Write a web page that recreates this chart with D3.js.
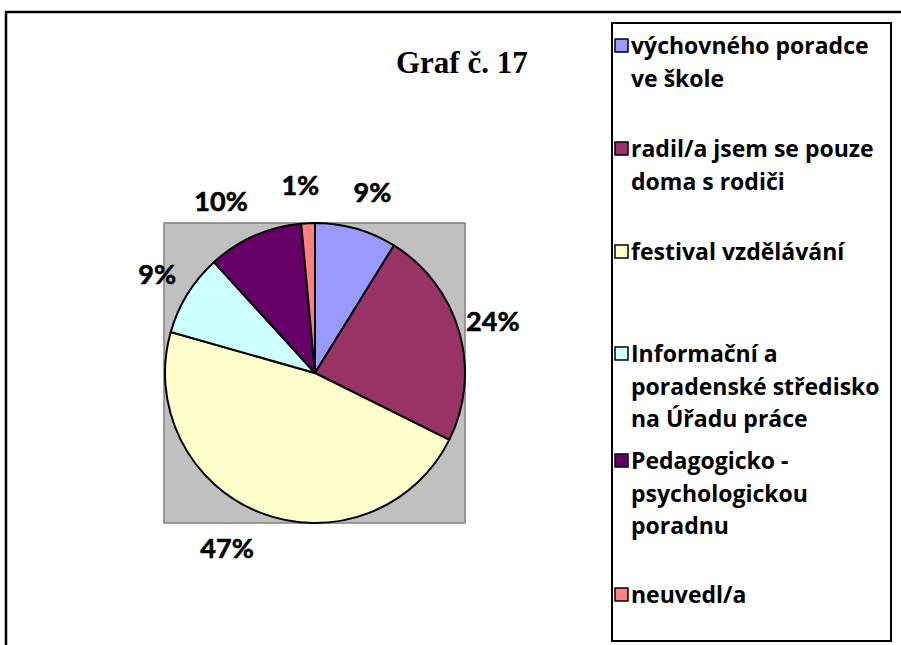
<!DOCTYPE html>
<html>
<head>
<meta charset="utf-8">
<script src="https://cdn.jsdelivr.net/npm/d3@7"></script>
<style>
  html, body { margin: 0; padding: 0; background: #fff; }
  svg { display: block; }
</style>
</head>
<body>
<div id="chart"></div>
<script>
// data (counts, sum 68)
const categories = [
    'výchovného poradce ve škole',
    'radil/a jsem se pouze doma s rodiči',
    'festival vzdělávání',
    'Informační a poradenské středisko na Úřadu práce',
    'Pedagogicko - psychologickou poradnu',
    'neuvedl/a'
];
const values = [6, 16, 32, 6, 7, 1];
const colors = ['#9999FF', '#993366', '#FFFFCC', '#CCFFFF', '#660066', '#FF8080'];
// legend text wrapped the way the original box wraps it
const legendLines = [
    ['výchovného poradce', 've škole'],
    ['radil/a jsem se pouze', 'doma s rodiči'],
    ['festival vzdělávání'],
    ['Informační a', 'poradenské středisko', 'na Úřadu práce'],
    ['Pedagogicko -', 'psychologickou', 'poradnu'],
    ['neuvedl/a']
];
const title = 'Graf č. 17';

const width = 901, height = 645;
const svg = d3.select('#chart').append('svg')
    .attr('width', width)
    .attr('height', height);

// outer frame (only top and left visible)
svg.append('path')
    .attr('d', `M6,${height} V12 H${width}`)
    .attr('fill', 'none')
    .attr('stroke', '#000')
    .attr('stroke-width', 2.5);

// title
svg.append('text')
    .attr('x', 396)
    .attr('y', 73)
    .text(title)
    .style('font-family', '"Liberation Serif", "Times New Roman", serif')
    .style('font-weight', 'bold')
    .style('font-size', '31px');

// plot area
const cx = 315, cy = 373, r = 150;
svg.append('rect')
    .attr('x', cx - r - 1)
    .attr('y', cy - r)
    .attr('width', 2 * r + 1)
    .attr('height', 2 * r)
    .attr('fill', '#C0C0C0')
    .attr('stroke', '#808080')
    .attr('stroke-width', 1.5);

const pie = d3.pie().sort(null).value(d => d);
const arcs = pie(values);
const arc = d3.arc().innerRadius(0).outerRadius(r);
const labelArc = d3.arc().innerRadius(188).outerRadius(188);
const total = d3.sum(values);
// small sideways nudges so the labels sit where the original put them
const labelNudge = [6, -3, -20, 2, -18, -6];

const g = svg.append('g').attr('transform', `translate(${cx},${cy})`);

g.selectAll('path')
    .data(arcs)
    .enter()
    .append('path')
    .attr('d', arc)
    .attr('fill', (d, i) => colors[i])
    .attr('stroke', '#000')
    .attr('stroke-width', 2)
    .attr('stroke-linejoin', 'round');

g.selectAll('text')
    .data(arcs)
    .enter()
    .append('text')
    .attr('transform', (d, i) => {
        const [x, y] = labelArc.centroid(d);
        return `translate(${x + labelNudge[i]},${y})`;
    })
    .attr('text-anchor', 'middle')
    .attr('dy', '0.36em')
    .text(d => Math.round(d.data / total * 100) + '%')
    .style('font-family', 'Lato, "Open Sans", sans-serif')
    .style('font-weight', 'bold')
    .style('font-size', '27px')
    .style('stroke', '#000')
    .style('stroke-width', '0.6px');

// legend
svg.append('rect')
    .attr('x', 612)
    .attr('y', 23)
    .attr('width', 279)
    .attr('height', 618)
    .attr('fill', '#fff')
    .attr('stroke', '#000')
    .attr('stroke-width', 2);

const legendY = [54, 157, 260, 362, 469, 603];
const lineH = 32.5;

const items = svg.append('g')
    .selectAll('g')
    .data(categories)
    .enter()
    .append('g')
    .attr('transform', (d, i) => `translate(0,${legendY[i]})`);

items.append('rect')
    .attr('x', 615)
    .attr('y', -15)
    .attr('width', 13)
    .attr('height', 13)
    .attr('fill', (d, i) => colors[i])
    .attr('stroke', '#000')
    .attr('stroke-width', 1.5);

items.append('text')
    .style('font-family', '"Open Sans", Lato, sans-serif')
    .style('font-weight', 'bold')
    .style('font-size', '23px')
    .selectAll('tspan')
    .data((d, i) => legendLines[i])
    .enter()
    .append('tspan')
    .attr('x', 631)
    .attr('y', (d, j) => j * lineH)
    .text(d => d);
</script>
</body>
</html>
